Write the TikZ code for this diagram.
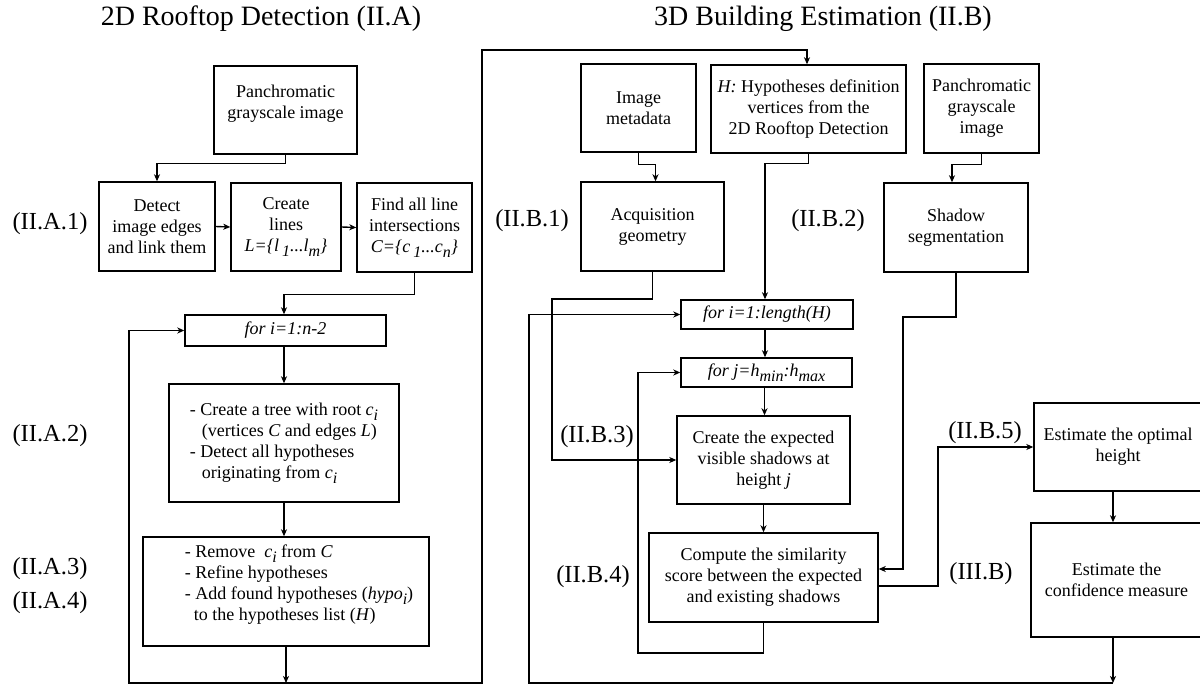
\documentclass[tikz,border=0pt]{standalone}
\usepackage{fontspec}
\setmainfont{Liberation Serif}
\usetikzlibrary{arrows.meta,calc}
\newcommand{\bodyfont}{\fontsize{18}{21}\selectfont}
\newcommand{\lblfont}{\fontsize{24.5}{28}\selectfont}
\newcommand{\ttlfont}{\fontsize{28}{32}\selectfont}
\newcommand{\sbs}[1]{\raisebox{-0.55ex}{\fontsize{16}{16}\selectfont #1}}
\tikzset{
  box/.style={draw, line width=1.4pt, inner sep=0pt, align=center, font=\bodyfont},
  txt/.style={inner sep=0pt, align=left, font=\bodyfont},
  lbl/.style={font=\lblfont, inner sep=0pt},
  ttl/.style={font=\ttlfont, inner sep=0pt},
  arr/.style={-{Stealth[length=7pt,width=6pt,inset=2pt]}, line width=1.4pt},
  ln/.style={line width=1.4pt}
}
\begin{document}
\begin{tikzpicture}[x=1pt,y=-1pt]
\useasboundingbox (0,0) rectangle (1200,688);
% titles
\node[ttl] (t1) at (261,19) {2D Rooftop Detection (II.A)};
\node[ttl] (t2) at (823,19) {3D Building Estimation (II.B)};
% labels
\node[lbl] (l1) at (50,224) {(II.A.1)};
\node[lbl] (l2) at (50,436) {(II.A.2)};
\node[lbl] (l3) at (50,569) {(II.A.3)};
\node[lbl] (l4) at (50,603) {(II.A.4)};
\node[lbl] (l5) at (532,221) {(II.B.1)};
\node[lbl] (l6) at (828,221) {(II.B.2)};
\node[lbl] (l7) at (597,437) {(II.B.3)};
\node[lbl] (l8) at (593,577) {(II.B.4)};
\node[lbl] (l9) at (985,433) {(II.B.5)};
\node[lbl] (l10) at (981,574) {(III.B)};
% left boxes
\node[box, minimum width=143pt, minimum height=88pt] (pan) at (285.5,110) {};
\node[txt, align=center] (pantxt) at (285.5,104) {Panchromatic\\grayscale image};
\node[box, minimum width=116pt, minimum height=89pt] (detect) at (157,226.5) {Detect\\image edges\\and link them};
\node[box, minimum width=110pt, minimum height=88pt] (lines) at (286,227) {Create\\lines\\\textit{L=\{l\,\sbs{1}...l\sbs{m}\}}};
\node[box, minimum width=115pt, minimum height=89pt] (find) at (414.5,227.5) {Find all line\\intersections\\\textit{C=\{c\,\sbs{1}...c\sbs{n}\}}};
\node[box, minimum width=201pt, minimum height=31pt] (fori) at (285.5,330.5) {\textit{for i=1:n-2}};
\node[box, minimum width=230pt, minimum height=118pt, align=left] (tree) at (284,443) {- Create a tree with root \textit{c}\sbs{\textit{i}}\\\hspace*{12pt}(vertices \textit{C} and edges \textit{L})\\- Detect all hypotheses\\\hspace*{12pt}originating from \textit{c}\sbs{\textit{i}}};
\node[box, minimum width=286pt, minimum height=109pt] (remove) at (286,591.5) {};
\node[txt] (removetxt) at (299,585) {- Remove \ \textit{c}\sbs{\textit{i}} from \textit{C}\\- Refine hypotheses\\- Add found hypotheses (\textit{hypo}\sbs{\textit{i}})\\\hspace*{9pt}to the hypotheses list (\textit{H})};
% right boxes
\node[box, minimum width=115pt, minimum height=88pt] (meta) at (638.5,108) {Image\\metadata};
\node[box, minimum width=195pt, minimum height=88pt] (hyp) at (808.5,109) {\textit{H:} Hypotheses definition\\vertices from the\\2D Rooftop Detection};
\node[box, minimum width=115pt, minimum height=89pt] (pan2) at (981.5,108.5) {Panchromatic\\grayscale\\image};
\node[box, minimum width=143pt, minimum height=89pt] (acq) at (652.5,226.5) {Acquisition\\geometry};
\node[box, minimum width=144pt, minimum height=89pt] (shadow) at (956,227.5) {Shadow\\segmentation};
\node[box, minimum width=172pt, minimum height=29pt] (foriR) at (767,314.5) {\textit{for i=1:length(H)}};
\node[box, minimum width=171pt, minimum height=29pt] (forj) at (766.5,372.5) {\textit{for j=h\sbs{min}:h\sbs{max}}};
\node[box, minimum width=173pt, minimum height=88pt] (create) at (763.5,460) {Create the expected\\visible shadows at\\height \textit{j}};
\node[box, minimum width=229pt, minimum height=89pt] (compute) at (763.5,577.5) {Compute the similarity\\score between the expected\\and existing shadows};
\node[box, minimum width=168pt, minimum height=88pt] (est) at (1118,447) {Estimate the optimal\\height};
\node[box, minimum width=171pt, minimum height=114pt] (conf) at (1116.5,580) {Estimate the\\confidence measure};
% coordinates
\coordinate (jA) at (286,683);
\coordinate (lA) at (129,683);
\coordinate (rA) at (482,683);
\coordinate (tA) at (482,50);
\coordinate (jB) at (1113,683);
\coordinate (lB) at (529,683);
\coordinate (acqA) at (552,299);
\coordinate (acqB) at (552,460);
\coordinate (cmpA) at (638,653);
\coordinate (shA) at (903,317);
\coordinate (shB) at (903,569);
\coordinate (cmpB) at (938,586);
% left connectors
\draw[arr] (pan.south) -- ++(0,9) -| (detect.north);
\draw[arr] (detect.east) -- (lines.west);
\draw[arr] (lines.east) -- (find.west);
\draw[arr] (find.south) -- ++(0,22) -| ([xshift=-1.5pt]fori.north);
\draw[arr] ([xshift=-1.5pt]fori.south) -- ([xshift=-1.5pt]fori.south |- tree.north);
\draw[arr] (tree.south) -- (tree.south |- remove.north);
\draw[arr] (remove.south) -- (jA);
\draw[arr] (jA) -- (lA) |- (fori.west);
\draw[arr] (jA) -- (rA) -- (tA) -| ([xshift=-1.5pt]hyp.north);
% right connectors
\draw[arr] (meta.south) -- ++(0,12) -| ([xshift=3pt]acq.north);
\draw[arr] (pan2.south) -- ++(0,11) -| ([xshift=-4pt]shadow.north);
\draw[arr] (hyp.south) -- ++(0,10) -| ([xshift=-2pt]foriR.north);
\draw[arr] ([xshift=-2pt]foriR.south) -- ([xshift=-2pt]foriR.south |- forj.north);
\draw[arr] ([xshift=-2pt]forj.south) -- ([xshift=-2pt]forj.south |- create.north);
\draw[arr] (create.south) -- (create.south |- compute.north);
\draw[arr] (acq.south) |- (acqA) -- (acqB) -- (create.west);
\draw[arr] (compute.south) |- (cmpA) |- (forj.west);
\draw[arr] (shadow.south) |- (shA) -- (shB) -- (shB -| compute.east);
\draw[arr] (cmpB -| compute.east) -- (cmpB) |- (est.west);
\draw[arr] ([xshift=-5pt]est.south) -- ([xshift=-5pt]est.south |- conf.north);
\draw[arr] (conf.south -| jB) -- (jB);
\draw[arr] (jB) -- (lB) |- (foriR.west);
\end{tikzpicture}
\end{document}
